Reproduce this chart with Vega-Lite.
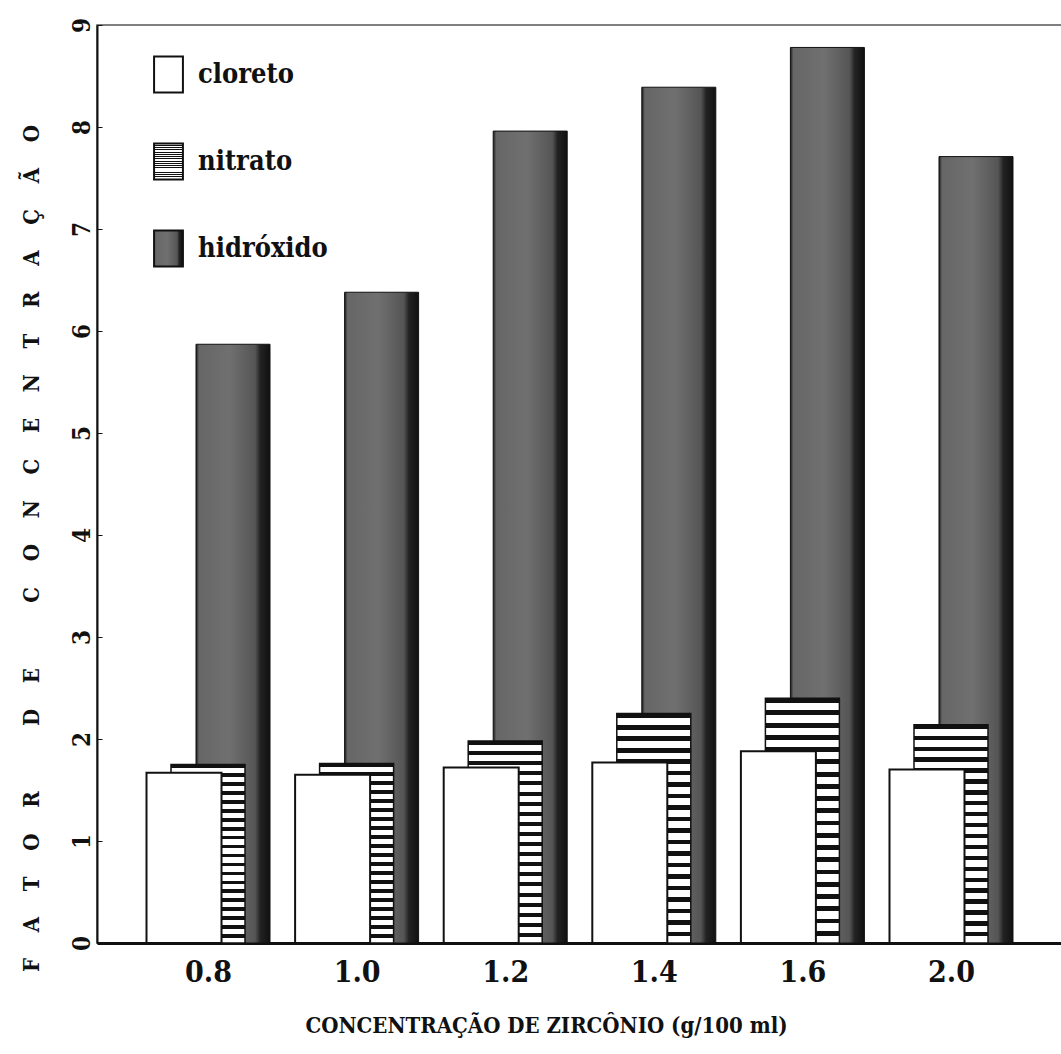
{
  "$schema": "https://vega.github.io/schema/vega-lite/v6.json",
  "width": 965,
  "height": 918,
  "autosize": {"type": "none"},
  "padding": {"left": 97, "top": 25, "right": 0, "bottom": 111},
  "background": "white",
  "config": {
    "view": {"stroke": "#555", "strokeWidth": 1.5},
    "font": "DejaVu Serif Condensed, DejaVu Serif"
  },
  "data": {
    "values": [
      {"conc": "0.8", "tipo": "cloreto", "valor": 1.67},
      {"conc": "1.0", "tipo": "cloreto", "valor": 1.65},
      {"conc": "1.2", "tipo": "cloreto", "valor": 1.72},
      {"conc": "1.4", "tipo": "cloreto", "valor": 1.77},
      {"conc": "1.6", "tipo": "cloreto", "valor": 1.88},
      {"conc": "2.0", "tipo": "cloreto", "valor": 1.70},
      {"conc": "0.8", "tipo": "nitrato", "valor": 1.75},
      {"conc": "1.0", "tipo": "nitrato", "valor": 1.76},
      {"conc": "1.2", "tipo": "nitrato", "valor": 1.98},
      {"conc": "1.4", "tipo": "nitrato", "valor": 2.25},
      {"conc": "1.6", "tipo": "nitrato", "valor": 2.40},
      {"conc": "2.0", "tipo": "nitrato", "valor": 2.14},
      {"conc": "0.8", "tipo": "hidróxido", "valor": 5.87},
      {"conc": "1.0", "tipo": "hidróxido", "valor": 6.38},
      {"conc": "1.2", "tipo": "hidróxido", "valor": 7.96},
      {"conc": "1.4", "tipo": "hidróxido", "valor": 8.39},
      {"conc": "1.6", "tipo": "hidróxido", "valor": 8.78},
      {"conc": "2.0", "tipo": "hidróxido", "valor": 7.71}
    ]
  },
  "encoding": {
    "x": {
      "field": "conc",
      "type": "ordinal",
      "sort": null,
      "scale": {"type": "point", "padding": 0.747},
      "axis": {
        "title": "CONCENTRAÇÃO DE ZIRCÔNIO (g/100 ml)",
        "labelAngle": 0,
        "ticks": false,
        "grid": false,
        "domainColor": "#111",
        "domainWidth": 3,
        "labelFontSize": 30,
        "labelFontWeight": "bold",
        "labelColor": "#111",
        "labelPadding": 14,
        "labelBaseline": "top",
        "titleFontSize": 22,
        "titleFontWeight": "bold",
        "titleColor": "#111",
        "titleX": 449,
        "titleY": 82,
        "titleAlign": "center",
        "titleBaseline": "middle"
      }
    },
    "y": {
      "field": "valor",
      "type": "quantitative",
      "scale": {"domain": [0, 9], "nice": false},
      "axis": {
        "title": "F\u2003\u2009\u200aA\u2003\u2009\u200aT\u2003\u2009\u200aO\u2003\u2009\u200aR\u2003\u2009\u200a\u2003\u2003D\u2003\u2009\u200aE\u2003\u2009\u200a\u2003\u2003C\u2003\u2009\u200aO\u2003\u2009\u200aN\u2003\u2009\u200aC\u2003\u2009\u200aE\u2003\u2009\u200aN\u2003\u2009\u200aT\u2003\u2009\u200aR\u2003\u2009\u200aA\u2003\u2009\u200aÇ\u2003\u2009\u200aÃ\u2003\u2009\u200aO",
        "values": [0, 1, 2, 3, 4, 5, 6, 7, 8, 9],
        "grid": false,
        "labelAngle": 270,
        "labelAlign": "center",
        "labelBaseline": "middle",
        "labelPadding": 20,
        "tickSize": -5,
        "tickColor": "#111",
        "domainColor": "#111",
        "domainWidth": 2,
        "labelFontSize": 24,
        "labelFontWeight": "bold",
        "labelColor": "#111",
        "titleAngle": 270,
        "titleX": -66,
        "titleY": 523,
        "titleAlign": "center",
        "titleBaseline": "middle",
        "titleFontSize": 22,
        "titleFontWeight": "bold",
        "titleColor": "#111"
      }
    },
    "fill": {
      "field": "tipo",
      "type": "nominal",
      "scale": {
        "domain": ["cloreto", "nitrato", "hidróxido"],
        "range": [
          "white",
          {"expr": "{gradient:'linear',x1:0,y1:0,x2:0,y2:1,stops:[{offset:0,color:'#111'},{offset:0.02,color:'#111'},{offset:0.02,color:'#fff'},{offset:0.05,color:'#fff'},{offset:0.05,color:'#111'},{offset:0.07,color:'#111'},{offset:0.07,color:'#fff'},{offset:0.1,color:'#fff'},{offset:0.1,color:'#111'},{offset:0.12,color:'#111'},{offset:0.12,color:'#fff'},{offset:0.15,color:'#fff'},{offset:0.15,color:'#111'},{offset:0.17,color:'#111'},{offset:0.17,color:'#fff'},{offset:0.2,color:'#fff'},{offset:0.2,color:'#111'},{offset:0.22,color:'#111'},{offset:0.22,color:'#fff'},{offset:0.25,color:'#fff'},{offset:0.25,color:'#111'},{offset:0.27,color:'#111'},{offset:0.27,color:'#fff'},{offset:0.3,color:'#fff'},{offset:0.3,color:'#111'},{offset:0.32,color:'#111'},{offset:0.32,color:'#fff'},{offset:0.35,color:'#fff'},{offset:0.35,color:'#111'},{offset:0.37,color:'#111'},{offset:0.37,color:'#fff'},{offset:0.4,color:'#fff'},{offset:0.4,color:'#111'},{offset:0.42,color:'#111'},{offset:0.42,color:'#fff'},{offset:0.45,color:'#fff'},{offset:0.45,color:'#111'},{offset:0.47,color:'#111'},{offset:0.47,color:'#fff'},{offset:0.5,color:'#fff'},{offset:0.5,color:'#111'},{offset:0.52,color:'#111'},{offset:0.52,color:'#fff'},{offset:0.55,color:'#fff'},{offset:0.55,color:'#111'},{offset:0.57,color:'#111'},{offset:0.57,color:'#fff'},{offset:0.6,color:'#fff'},{offset:0.6,color:'#111'},{offset:0.62,color:'#111'},{offset:0.62,color:'#fff'},{offset:0.65,color:'#fff'},{offset:0.65,color:'#111'},{offset:0.67,color:'#111'},{offset:0.67,color:'#fff'},{offset:0.7,color:'#fff'},{offset:0.7,color:'#111'},{offset:0.72,color:'#111'},{offset:0.72,color:'#fff'},{offset:0.75,color:'#fff'},{offset:0.75,color:'#111'},{offset:0.77,color:'#111'},{offset:0.77,color:'#fff'},{offset:0.8,color:'#fff'},{offset:0.8,color:'#111'},{offset:0.82,color:'#111'},{offset:0.82,color:'#fff'},{offset:0.85,color:'#fff'},{offset:0.85,color:'#111'},{offset:0.87,color:'#111'},{offset:0.87,color:'#fff'},{offset:0.9,color:'#fff'},{offset:0.9,color:'#111'},{offset:0.92,color:'#111'},{offset:0.92,color:'#fff'},{offset:0.95,color:'#fff'},{offset:0.95,color:'#111'},{offset:0.97,color:'#111'},{offset:0.97,color:'#fff'},{offset:1,color:'#fff'}]}"},
          {"expr": "{gradient:'linear',x1:0,y1:0,x2:1,y2:0,stops:[{offset:0,color:'#1a1a1a'},{offset:0.04,color:'#666'},{offset:0.45,color:'#707070'},{offset:0.8,color:'#555'},{offset:0.87,color:'#222'},{offset:1,color:'#111'}]}"}
        ]
      },
      "legend": {
        "title": null,
        "orient": "none",
        "legendX": 52,
        "legendY": 30,
        "padding": 0,
        "symbolType": "M-0.8,-1H0.8V1H-0.8Z",
        "symbolSize": 1300,
        "symbolStrokeColor": "#111",
        "symbolStrokeWidth": 2,
        "labelFontSize": 27,
        "labelFontWeight": "bold",
        "labelColor": "#111",
        "labelOffset": 10,
        "rowPadding": 42,
        "encode": {
          "symbols": {
            "update": {
              "fill": {"signal": "datum.value === 'cloreto' ? 'white' : datum.value === 'nitrato' ? {gradient:'linear',x1:0,y1:0,x2:1,y2:0,stops:[{offset:0,color:'#111'},{offset:0.05,color:'#111'},{offset:0.05,color:'#fff'},{offset:0.125,color:'#fff'},{offset:0.125,color:'#111'},{offset:0.175,color:'#111'},{offset:0.175,color:'#fff'},{offset:0.25,color:'#fff'},{offset:0.25,color:'#111'},{offset:0.3,color:'#111'},{offset:0.3,color:'#fff'},{offset:0.375,color:'#fff'},{offset:0.375,color:'#111'},{offset:0.425,color:'#111'},{offset:0.425,color:'#fff'},{offset:0.5,color:'#fff'},{offset:0.5,color:'#111'},{offset:0.55,color:'#111'},{offset:0.55,color:'#fff'},{offset:0.625,color:'#fff'},{offset:0.625,color:'#111'},{offset:0.675,color:'#111'},{offset:0.675,color:'#fff'},{offset:0.75,color:'#fff'},{offset:0.75,color:'#111'},{offset:0.8,color:'#111'},{offset:0.8,color:'#fff'},{offset:0.875,color:'#fff'},{offset:0.875,color:'#111'},{offset:0.925,color:'#111'},{offset:0.925,color:'#fff'},{offset:1,color:'#fff'}]} : '#555'"},
              "stroke": {"value": "#111"},
              "strokeWidth": {"value": 2},
              "opacity": {"value": 1}
            }
          }
        }
      }
    }
  },
  "layer": [
    {
      "transform": [{"filter": "datum.tipo === 'hidróxido'"}],
      "mark": {"type": "bar", "width": 74, "xOffset": 25, "stroke": "#111", "strokeWidth": 1}
    },
    {
      "transform": [{"filter": "datum.tipo === 'nitrato'"}],
      "mark": {"type": "bar", "width": 74, "xOffset": 0, "stroke": "#111", "strokeWidth": 1.5}
    },
    {
      "transform": [{"filter": "datum.tipo === 'cloreto'"}],
      "mark": {"type": "bar", "width": 75, "xOffset": -24, "stroke": "#111", "strokeWidth": 2}
    }
  ]
}
